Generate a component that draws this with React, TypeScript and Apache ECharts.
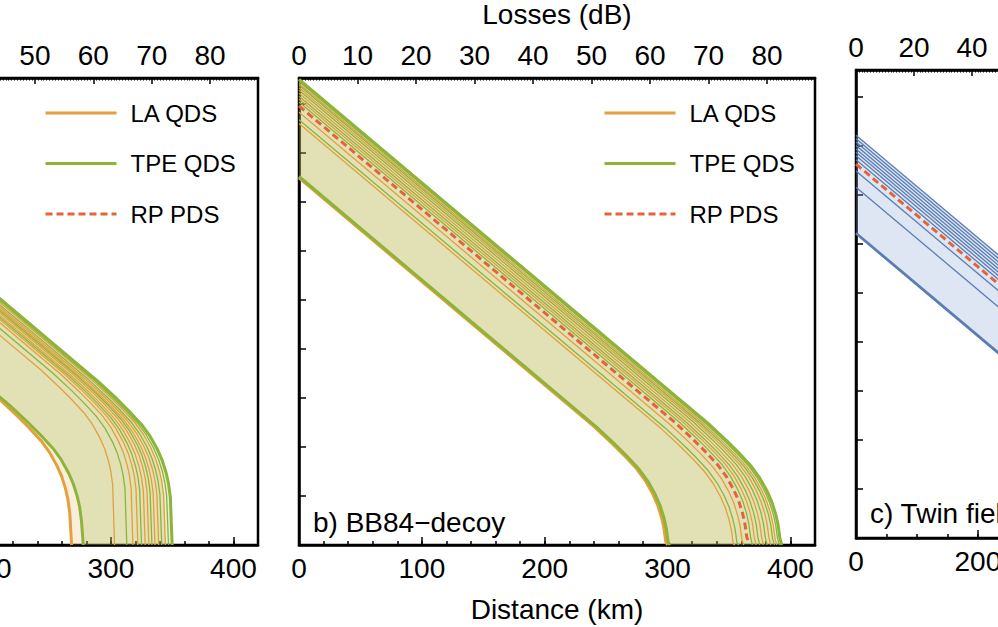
import React, { useEffect, useRef } from "react";
import * as echarts from "echarts";

type Pt = [number, number];

// ---------- Panel a (left, partially visible): log10(key rate) vs distance (km) ----------
const aLA: Pt[][] = [
  [[0, -2.6], [208, -7.0], [223, -7.35], [233, -7.6], [243, -7.87], [250, -8.11], [256, -8.38], [260, -8.61], [263, -8.85], [265, -9.07], [266.5, -9.35], [268, -10]],
  [[0, -1.3], [243, -6.43], [258, -6.78], [268, -7.03], [278, -7.3], [285, -7.54], [291, -7.81], [295, -8.04], [298, -8.28], [300, -8.5], [301.5, -8.78], [303, -10]],
  [[0, -1.04], [258, -6.49], [273, -6.84], [283, -7.09], [293, -7.36], [300, -7.6], [306, -7.87], [310, -8.1], [313, -8.34], [315, -8.56], [316.5, -8.84], [318, -10]],
  [[0, -0.98], [262, -6.51], [277, -6.86], [287, -7.11], [297, -7.38], [304, -7.62], [310, -7.89], [314, -8.12], [317, -8.36], [319, -8.58], [320.5, -8.86], [322, -10]],
  [[0, -0.89], [268, -6.55], [283, -6.9], [293, -7.15], [303, -7.42], [310, -7.66], [316, -7.93], [320, -8.16], [323, -8.4], [325, -8.62], [326.5, -8.9], [328, -10]],
  [[0, -0.84], [271, -6.56], [286, -6.91], [296, -7.16], [306, -7.43], [313, -7.67], [319, -7.94], [323, -8.17], [326, -8.41], [328, -8.63], [329.5, -8.91], [331, -10]],
  [[0, -0.76], [276, -6.59], [291, -6.94], [301, -7.19], [311, -7.46], [318, -7.7], [324, -7.97], [328, -8.2], [331, -8.44], [333, -8.66], [334.5, -8.94], [336, -10]],
  [[0, -0.72], [279, -6.61], [294, -6.96], [304, -7.21], [314, -7.48], [321, -7.72], [327, -7.99], [331, -8.22], [334, -8.46], [336, -8.68], [337.5, -8.96], [339, -10]],
  [[0, -0.63], [284.5, -6.63], [299.5, -6.98], [309.5, -7.23], [319.5, -7.5], [326.5, -7.74], [332.5, -8.01], [336.5, -8.24], [339.5, -8.48], [341.5, -8.7], [343, -8.98], [344.5, -10]],
];
const aTPE: Pt[][] = [
  [[0, -2.55], [217.5, -7.15], [232.5, -7.5], [242.5, -7.75], [252.5, -8.02], [259.5, -8.26], [265.5, -8.53], [269.5, -8.76], [272.5, -9.0], [274.5, -9.22], [276, -9.5], [277.5, -10]],
  [[0, -1.16], [253, -6.5], [268, -6.85], [278, -7.1], [288, -7.37], [295, -7.61], [301, -7.88], [305, -8.11], [308, -8.35], [310, -8.57], [311.5, -8.85], [313, -10]],
  [[0, -0.93], [265, -6.53], [280, -6.88], [290, -7.13], [300, -7.4], [307, -7.64], [313, -7.91], [317, -8.14], [320, -8.38], [322, -8.6], [323.5, -8.88], [325, -10]],
  [[0, -0.8], [273.5, -6.57], [288.5, -6.92], [298.5, -7.17], [308.5, -7.44], [315.5, -7.68], [321.5, -7.95], [325.5, -8.18], [328.5, -8.42], [330.5, -8.64], [332, -8.92], [333.5, -10]],
  [[0, -0.68], [281.5, -6.62], [296.5, -6.97], [306.5, -7.22], [316.5, -7.49], [323.5, -7.73], [329.5, -8.0], [333.5, -8.23], [336.5, -8.47], [338.5, -8.69], [340, -8.97], [341.5, -10]],
  [[0, -0.59], [287, -6.65], [302, -7.0], [312, -7.25], [322, -7.52], [329, -7.76], [335, -8.03], [339, -8.26], [342, -8.5], [344, -8.72], [345.5, -9.0], [347, -10]],
  [[0, -0.55], [290, -6.67], [305, -7.02], [315, -7.27], [325, -7.54], [332, -7.78], [338, -8.05], [342, -8.28], [345, -8.52], [347, -8.74], [348.5, -9.02], [350, -10]],
];

// ---------- Panel b (BB84-decoy) ----------
const bLA: Pt[][] = [
  [[0, -2.51], [240, -7.58], [255, -7.93], [265, -8.18], [275, -8.45], [282, -8.69], [288, -8.96], [292, -9.19], [295, -9.43], [297, -9.65], [298.5, -9.93], [300, -10]],
  [[0, -1.4], [295, -7.63], [310, -7.98], [320, -8.23], [330, -8.5], [337, -8.74], [343, -9.01], [347, -9.24], [350, -9.48], [352, -9.7], [353.5, -9.98], [355, -10]],
  [[0, -1.17], [302, -7.54], [317, -7.89], [327, -8.14], [337, -8.41], [344, -8.65], [350, -8.92], [354, -9.15], [357, -9.39], [359, -9.61], [360.5, -9.89], [362, -10]],
  [[0, -0.9], [312, -7.48], [327, -7.83], [337, -8.08], [347, -8.35], [354, -8.59], [360, -8.86], [364, -9.09], [367, -9.33], [369, -9.55], [370.5, -9.83], [372, -10]],
  [[0, -0.78], [318, -7.49], [333, -7.84], [343, -8.09], [353, -8.36], [360, -8.6], [366, -8.87], [370, -9.1], [373, -9.34], [375, -9.56], [376.5, -9.84], [378, -10]],
  [[0, -0.67], [324, -7.5], [339, -7.85], [349, -8.1], [359, -8.37], [366, -8.61], [372, -8.88], [376, -9.11], [379, -9.35], [381, -9.57], [382.5, -9.85], [384, -10]],
  [[0, -0.58], [329, -7.52], [344, -7.87], [354, -8.12], [364, -8.39], [371, -8.63], [377, -8.9], [381, -9.13], [384, -9.37], [386, -9.59], [387.5, -9.87], [389, -10]],
];
const bTPE: Pt[][] = [
  [[0, -2.48], [242, -7.59], [257, -7.94], [267, -8.19], [277, -8.46], [284, -8.7], [290, -8.97], [294, -9.2], [297, -9.44], [299, -9.66], [300.5, -9.94], [302, -10]],
  [[0, -1.32], [298, -7.61], [313, -7.96], [323, -8.21], [333, -8.48], [340, -8.72], [346, -8.99], [350, -9.22], [353, -9.46], [355, -9.68], [356.5, -9.96], [358, -10]],
  [[0, -0.96], [309, -7.48], [324, -7.83], [334, -8.08], [344, -8.35], [351, -8.59], [357, -8.86], [361, -9.09], [364, -9.33], [366, -9.55], [367.5, -9.83], [369, -10]],
  [[0, -0.84], [315, -7.49], [330, -7.84], [340, -8.09], [350, -8.36], [357, -8.6], [363, -8.87], [367, -9.1], [370, -9.34], [372, -9.56], [373.5, -9.84], [375, -10]],
  [[0, -0.72], [321, -7.49], [336, -7.84], [346, -8.09], [356, -8.36], [363, -8.6], [369, -8.87], [373, -9.1], [376, -9.34], [378, -9.56], [379.5, -9.84], [381, -10]],
  [[0, -0.62], [327, -7.52], [342, -7.87], [352, -8.12], [362, -8.39], [369, -8.63], [375, -8.9], [379, -9.13], [382, -9.37], [384, -9.59], [385.5, -9.87], [387, -10]],
  [[0, -0.54], [331, -7.52], [346, -7.87], [356, -8.12], [366, -8.39], [373, -8.63], [379, -8.9], [383, -9.13], [386, -9.37], [388, -9.59], [389.5, -9.87], [391, -10]],
  [[0, -0.5], [333, -7.52], [348, -7.87], [358, -8.12], [368, -8.39], [375, -8.63], [381, -8.9], [385, -9.13], [388, -9.37], [390, -9.59], [391.5, -9.87], [393, -10]],
];
const bRP: Pt[] = [[0, -1.04], [306, -7.5], [321, -7.85], [331, -8.1], [341, -8.37], [348, -8.61], [354, -8.88], [358, -9.11], [361, -9.35], [363, -9.57], [364.5, -9.85], [366, -9.92]];

// ---------- Panel c (Twin field) ----------
const cTF: Pt[][] = [
  [[0, -3.78], [300, -6.92]],
  [[0, -2.84], [300, -5.98]],
  [[0, -2.51], [300, -5.65]],
  [[0, -2.28], [300, -5.42]],
  [[0, -2.2], [300, -5.34]],
  [[0, -2.13], [300, -5.27]],
  [[0, -2.06], [300, -5.2]],
  [[0, -1.99], [300, -5.13]],
  [[0, -1.92], [300, -5.06]],
  [[0, -1.85], [300, -4.99]],
  [[0, -1.78], [300, -4.92]],
];
const cRP: Pt[] = [[0, -2.37], [300, -5.51]];

const legendNames = ["LA QDS", "TPE QDS", "RP PDS"];
const panelLabels = ["b) BB84\u2212decoy", "c) Twin field"];

const FONT = '"Liberation Sans", Arial, sans-serif';
const LA_C = "#E3A03C";
const TPE_C = "#8DB43A";
const RP_C = "#E4643A";
const TF_C = "#5B7DB5";

function lineSeries(name: string, data: Pt[], color: string, width: number, p: number, dashed = false, z = 3) {
  return {
    type: "line",
    name,
    data,
    xAxisIndex: p * 3,
    yAxisIndex: p,
    symbol: "none",
    showSymbol: false,
    silent: true,
    z,
    clip: true,
    lineStyle: { color, width, type: dashed ? [7, 4] : "solid" },
    itemStyle: { color },
    emphasis: { disabled: true },
  };
}

function bandSeries(upper: Pt[], lower: Pt[], fill: string, p: number) {
  return {
    type: "custom",
    coordinateSystem: "cartesian2d",
    xAxisIndex: p * 3,
    yAxisIndex: p,
    silent: true,
    z: 1,
    data: [[upper[0][0], upper[0][1]]],
    renderItem: (_params: any, api: any) => {
      const pts = upper
        .map((q) => api.coord(q))
        .concat(lower.slice().reverse().map((q) => api.coord(q)));
      return { type: "polygon", shape: { points: pts }, style: { fill } };
    },
  };
}

function isMult(v: number, step: number) {
  return Math.abs(v / step - Math.round(v / step)) < 1e-6;
}

// visible label ranges (labels lying wholly outside the picture are left blank)
function axesFor(
  p: number, maxD: number, majD: number, minD: number, maxL: number, majL: number, names: boolean,
  dRange: [number, number], lRange: [number, number]
) {
  const lineS = { color: "#000", width: 2.5 };
  const labelS = { color: "#000", fontSize: 28, fontFamily: FONT };
  return [
    {
      type: "value", gridIndex: p, position: "bottom", min: 0, max: maxD, interval: majD,
      axisLine: { show: true, onZero: false, lineStyle: lineS },
      axisTick: { show: true, inside: true, length: 8, lineStyle: { color: "#000", width: 1.5 } },
      axisLabel: {
        ...labelS, margin: 9,
        formatter: (v: number) => (isMult(v, majD) && v >= dRange[0] && v <= dRange[1] ? String(v) : ""),
      },
      splitLine: { show: false },
      name: names ? "Distance (km)" : "",
      nameLocation: "middle",
      nameGap: 50,
      nameTextStyle: { ...labelS },
    },
    {
      type: "value", gridIndex: p, position: "bottom", min: 0, max: maxD, interval: minD,
      axisLine: { show: false, onZero: false },
      axisTick: { show: true, inside: true, length: 4, lineStyle: { color: "#000", width: 1.5 } },
      axisLabel: { show: false },
      splitLine: { show: false },
    },
    {
      type: "value", gridIndex: p, position: "top", min: 0, max: maxL, interval: majL,
      axisLine: { show: true, onZero: false, lineStyle: lineS },
      axisTick: { show: true, inside: true, length: 6, lineStyle: { color: "#000", width: 1.5 } },
      minorTick: { show: true, splitNumber: 20, length: 2.5, lineStyle: { color: "#000", width: 1 } },
      axisLabel: {
        ...labelS, margin: 9,
        formatter: (v: number) => (isMult(v, majL) && v >= lRange[0] && v <= lRange[1] ? String(v) : ""),
      },
      splitLine: { show: false },
      name: names ? "Losses (dB)" : "",
      nameLocation: "middle",
      nameGap: 50,
      nameTextStyle: { ...labelS },
    },
  ];
}

function yAxisFor(p: number, max: number) {
  return {
    type: "value", gridIndex: p, min: -10, max, interval: 1,
    axisLine: { show: true, onZero: false, lineStyle: { color: "#000", width: 2.5 } },
    axisTick: { show: true, inside: true, length: 7, lineStyle: { color: "#000", width: 1.5 } },
    axisLabel: { show: false },
    splitLine: { show: false },
  };
}

function legendAt(left: number) {
  return {
    orient: "vertical",
    left,
    top: 101,
    padding: 0,
    itemWidth: 71,
    itemHeight: 24,
    itemGap: 26.5,
    selectedMode: false,
    data: legendNames,
    lineStyle: { width: 3 },
    itemStyle: { opacity: 0 },
    textStyle: { fontSize: 24, color: "#000", fontFamily: FONT, padding: [0, 0, 0, 9] },
  };
}

export default function App() {
  const ref = useRef<HTMLDivElement>(null);
  useEffect(() => {
    if (!ref.current) return;
    const chart = echarts.init(ref.current, null, { renderer: "svg" });
    const series: any[] = [];
    // bands
    series.push(bandSeries(aLA[aLA.length - 1], aLA[0], "rgba(230,160,50,0.18)", 0));
    series.push(bandSeries(aTPE[aTPE.length - 1], aTPE[0], "rgba(141,181,54,0.22)", 0));
    series.push(bandSeries(bLA[bLA.length - 1], bLA[0], "rgba(230,160,50,0.18)", 1));
    series.push(bandSeries(bTPE[bTPE.length - 1], bTPE[0], "rgba(141,181,54,0.22)", 1));
    series.push(bandSeries(cTF[cTF.length - 1], cTF[0], "rgba(120,155,205,0.25)", 2));
    // lines panel a
    aLA.forEach((c, i) => series.push(lineSeries("LA QDS", c, LA_C, i === 0 ? 3 : 1.3, 0)));
    aTPE.forEach((c, i) => series.push(lineSeries("TPE QDS", c, TPE_C, i === 0 || i === aTPE.length - 1 ? 3 : 1.3, 0)));
    // lines panel b
    bLA.forEach((c, i) => series.push(lineSeries("LA QDS", c, LA_C, i === 0 ? 3 : 1.3, 1)));
    bTPE.forEach((c, i) => series.push(lineSeries("TPE QDS", c, TPE_C, i === 0 || i === bTPE.length - 1 ? 3 : 1.3, 1)));
    series.push(lineSeries("RP PDS", bRP, RP_C, 3, 1, true, 5));
    // lines panel c
    cTF.forEach((c, i) => series.push(lineSeries("Twin field QDS", c, TF_C, i === 0 ? 2.8 : 1.3, 2)));
    series.push(lineSeries("RP PDS", cRP, RP_C, 3, 2, true, 5));

    const gridBase = { show: true, borderColor: "#000", borderWidth: 2.5, backgroundColor: "transparent", containLabel: false, outerBoundsMode: "none" };
    const option: any = {
      animation: false,
      textStyle: { fontFamily: FONT },
      grid: [
        { ...gridBase, left: -257, top: 78, width: 515, height: 467 },
        { ...gridBase, left: 299, top: 78, width: 516, height: 467 },
        { ...gridBase, left: 856, top: 70, width: 512, height: 468 },
      ],
      xAxis: [
        ...axesFor(0, 420, 100, 20, 88.2, 10, false, [200, 420], [50, 88]),
        ...axesFor(1, 420, 100, 20, 88.2, 10, true, [0, 420], [0, 88]),
        ...axesFor(2, 840, 200, 50, 176.5, 20, false, [0, 200], [0, 40]),
      ],
      yAxis: [yAxisFor(0, -0.47), yAxisFor(1, -0.47), yAxisFor(2, -0.449)],
      legend: [legendAt(44), legendAt(603)],
      graphic: [
        { type: "text", x: 313, y: 522, style: { text: panelLabels[0], fontSize: 28, fontFamily: FONT, fill: "#000", verticalAlign: "middle", align: "left" } },
        { type: "text", x: 870, y: 513, style: { text: panelLabels[1], fontSize: 28, fontFamily: FONT, fill: "#000", verticalAlign: "middle", align: "left" } },
      ],
      series,
    };
    chart.setOption(option);
    return () => chart.dispose();
  }, []);
  return <div ref={ref} style={{ position: "fixed", left: 0, top: 0, width: 998, height: 627, background: "#fff" }} />;
}
